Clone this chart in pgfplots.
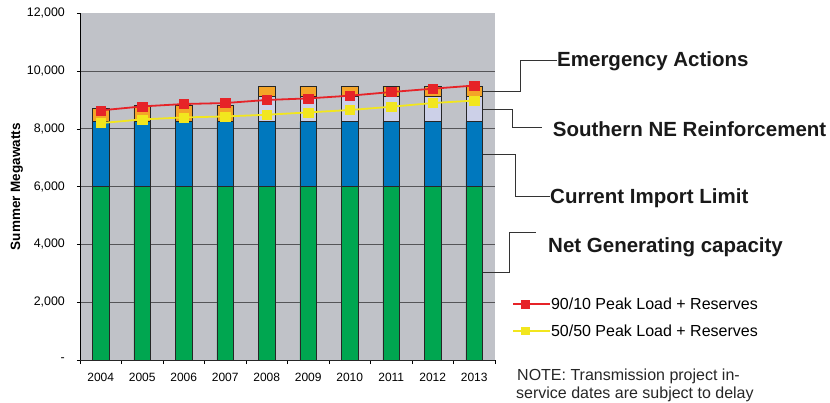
\documentclass[border=0pt]{standalone}
\usepackage{pgfplots}
\pgfplotsset{compat=1.18}
\usepackage{fontspec}
\setmainfont{Liberation Sans}

\definecolor{bggray}{RGB}{192,194,200}
\definecolor{cgreen}{RGB}{0,166,80}
\definecolor{cblue}{RGB}{0,120,190}
\definecolor{clav}{RGB}{204,208,232}
\definecolor{corange}{RGB}{244,165,40}
\definecolor{cred}{RGB}{230,35,40}
\definecolor{cyellow}{RGB}{242,230,30}
\definecolor{gridc}{RGB}{85,85,88}

\begin{document}
\begin{tikzpicture}
\useasboundingbox (0pt,0pt) rectangle (830pt,402pt);
\begin{axis}[
  at={(80pt,42pt)}, anchor=south west,
  scale only axis, width=415pt, height=346.7pt,
  xmin=-0.5, xmax=9.5, ymin=0, ymax=12000,
  scaled y ticks=false,
  ybar stacked, bar width=16.6pt,
  axis background/.style={fill=bggray},
  axis x line*=bottom, axis y line*=left,
  x axis line style={black!85, line width=0.8pt},
  y axis line style={black, line width=0.9pt},
  xtick={0,...,9},
  xticklabels={2004,2005,2006,2007,2008,2009,2010,2011,2012,2013},
  major x tick style={draw=none},
  minor xtick={-0.5,0.5,...,9.5},
  minor x tick style={black, line width=0.6pt},
  ytick={0,2000,4000,6000,8000,10000},
  yticklabels={-,2{,}000,4{,}000,6{,}000,8{,}000,10{,}000},
  extra y ticks={12000},
  extra y tick labels={12{,}000},
  extra y tick style={grid=none},
  y tick style={black, line width=0.6pt},
  tick align=outside,
  major tick length=3pt, minor tick length=4pt,
  ymajorgrids,
  grid style={gridc, line width=0.9pt},
  xticklabel style={font=\fontsize{12}{14}\selectfont, inner sep=0pt, anchor=north, yshift=-10pt},
  yticklabel style={font=\fontsize{12.4}{14}\selectfont, inner sep=0pt, anchor=east, xshift=-12pt},
  ylabel={Summer Megawatts},
  ylabel style={font=\fontsize{13.5}{15}\selectfont\bfseries, at={(axis description cs:-0.152,0.5)}, anchor=center},
  every axis plot/.append style={draw=black!85, line width=0.8pt},
]
\addplot[fill=cgreen] coordinates {(0,6000)(1,6000)(2,6000)(3,6000)(4,6000)(5,6000)(6,6000)(7,6000)(8,6000)(9,6000)};
\addplot[fill=cblue] coordinates {(0,2250)(1,2250)(2,2250)(3,2250)(4,2250)(5,2250)(6,2250)(7,2250)(8,2250)(9,2250)};
\addplot[fill=clav] coordinates {(0,0)(1,0)(2,0)(3,0)(4,870)(5,870)(6,870)(7,870)(8,870)(9,870)};
\addplot[fill=corange] coordinates {(0,450)(1,570)(2,570)(3,570)(4,360)(5,360)(6,360)(7,360)(8,360)(9,360)};
\end{axis}
\begin{axis}[
  at={(80pt,42pt)}, anchor=south west,
  scale only axis, width=415pt, height=346.7pt,
  xmin=-0.5, xmax=9.5, ymin=0, ymax=12000,
  hide axis, clip=false,
  legend style={at={(axis description cs:1.041,0.1226)}, anchor=west, draw=none, fill=none,
    font=\fontsize{16}{19}\selectfont, row sep=15pt, inner sep=0pt,
    nodes={inner sep=0pt, text depth=0pt}},
  legend cell align=left,
  legend image code/.code={%
    \draw[#1, mark=none] (0pt,0pt) -- (24pt,0pt);
    \draw[#1, only marks, mark size=3.6pt] plot coordinates {(12pt,0pt)};
    \path (0pt,0pt) -- (37pt,0pt);},
]
\addplot[color=cred, line width=1.8pt, mark=square*, mark size=4.6pt, mark options={fill=cred, draw=cred, line width=0.4pt}]
  coordinates {(0,8640)(1,8777)(2,8860)(3,8894)(4,9000)(5,9055)(6,9148)(7,9275)(8,9390)(9,9500)};
\addlegendentry{90/10 Peak Load + Reserves}
\addplot[color=cyellow, line width=1.8pt, mark=square*, mark size=4.6pt, mark options={fill=cyellow, draw=cyellow, line width=0.4pt}]
  coordinates {(0,8200)(1,8327)(2,8396)(3,8430)(4,8489)(5,8570)(6,8652)(7,8766)(8,8894)(9,8980)};
\addlegendentry{50/50 Peak Load + Reserves}
\end{axis}

% leader lines and labels
\draw[black!80, line width=0.8pt] (482.7pt,311pt) -- (520pt,311pt) -- (520pt,341.3pt) -- (557pt,341.3pt);
\node[anchor=base west, inner sep=0pt, font=\fontsize{20.5}{24}\selectfont\bfseries, text=black!90] at (557pt,335.3pt) {Emergency Actions};
\draw[black!80, line width=0.8pt] (482.7pt,293pt) -- (512pt,293pt) -- (512pt,274.7pt) -- (541.7pt,274.7pt);
\node[anchor=base west, inner sep=0pt, font=\fontsize{20.5}{24}\selectfont\bfseries, text=black!90] at (552.7pt,265.3pt) {Southern NE Reinforcement};
\draw[black!80, line width=0.8pt] (482.7pt,248pt) -- (515.7pt,248pt) -- (515.7pt,205.3pt) -- (550pt,205.3pt);
\node[anchor=base west, inner sep=0pt, font=\fontsize{20.5}{24}\selectfont\bfseries, text=black!90] at (550pt,198pt) {Current Import Limit};
\draw[black!80, line width=0.8pt] (482.7pt,129.3pt) -- (509pt,129.3pt) -- (509pt,169.3pt) -- (536pt,169.3pt);
\node[anchor=base west, inner sep=0pt, font=\fontsize{20.5}{24}\selectfont\bfseries, text=black!90] at (548pt,149.5pt) {Net Generating capacity};

\node[anchor=base west, inner sep=0pt, font=\fontsize{16}{18}\selectfont, text=black!85] at (517pt,22pt) {NOTE: Transmission project in-};
\node[anchor=base west, inner sep=0pt, font=\fontsize{16}{18}\selectfont, text=black!85] at (516pt,4pt) {service dates are subject to delay};
\end{tikzpicture}
\end{document}
